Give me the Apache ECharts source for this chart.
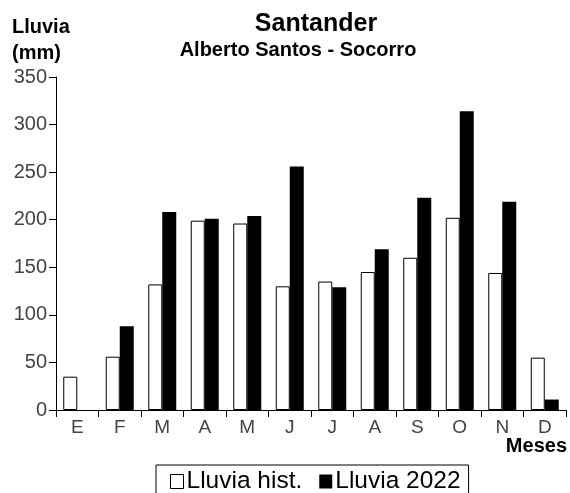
<!DOCTYPE html>
<html><head><meta charset="utf-8">
<script src="https://cdn.jsdelivr.net/npm/echarts@6/dist/echarts.min.js"></script>
<style>html,body{margin:0;padding:0;background:#fff}#c{width:570px;height:493px}</style>
</head><body><div id="c"></div>
<script>
var months = ['E','F','M','A','M','J','J','A','S','O','N','D'];
var lluviaHist = [35, 56, 132, 199, 196, 130, 135, 145, 160, 202, 144, 55];
var lluvia2022 = [0, 88, 208, 201, 204, 256, 129, 169, 223, 314, 219, 11];
var yTicks = {min: 0, max: 350, interval: 50};
var FONT = '"Liberation Sans", Arial, sans-serif';

var chart = echarts.init(document.getElementById('c'));
chart.setOption({
  animation: false,
  backgroundColor: '#fff',
  title: [
    {text: 'Santander', left: 311, top: 7, textAlign: 'center',
     textStyle: {fontFamily: FONT, fontSize: 25, fontWeight: 'bold', color: '#000'}},
    {text: 'Alberto Santos - Socorro', left: 293, top: 35, textAlign: 'center',
     textStyle: {fontFamily: FONT, fontSize: 20, fontWeight: 'bold', color: '#000'}}
  ],
  graphic: [
    {type: 'text', left: 12, top: 14, style: {text: 'Lluvia\n(mm)', font: 'bold 20px ' + FONT, fill: '#000', lineHeight: 26}},
    {type: 'text', right: 3, top: 436, style: {text: 'Meses', font: 'bold 20px ' + FONT, fill: '#000'}}
  ],
  legend: {
    left: 156, top: 465,
    data: [
      {name: 'Lluvia hist.', icon: 'rect', itemStyle: {color: '#fff', borderColor: '#000', borderWidth: 1}},
      {name: 'Lluvia 2022', icon: 'rect', itemStyle: {color: '#000'}}
    ],
    itemWidth: 13, itemHeight: 14, itemGap: 17,
    borderColor: '#000', borderWidth: 1, padding: [4, 8, 10, 14],
    textStyle: {fontFamily: FONT, fontSize: 24.5, lineHeight: 24, color: '#000', padding: [0, 0, 0, -2]}
  },
  grid: {left: 56, right: 4, top: 77, bottom: 83, containLabel: false},
  xAxis: {
    type: 'category', data: months, boundaryGap: true,
    axisLine: {lineStyle: {color: '#000', width: 1}},
    axisTick: {show: true, length: 7, lineStyle: {color: '#000'}},
    axisLabel: {fontFamily: FONT, fontSize: 19, color: '#444', margin: 8}
  },
  yAxis: {
    type: 'value', min: yTicks.min, max: yTicks.max, interval: yTicks.interval,
    splitLine: {show: false},
    axisLine: {show: true, lineStyle: {color: '#000', width: 1}},
    axisTick: {show: true, length: 7, lineStyle: {color: '#000'}},
    axisLabel: {fontFamily: FONT, fontSize: 20, color: '#444', margin: 9}
  },
  series: [
    {name: 'Lluvia hist.', type: 'bar', data: lluviaHist, barWidth: 14, barGap: '0%',
     itemStyle: {color: '#fff', borderColor: '#000', borderWidth: 1}},
    {name: 'Lluvia 2022', type: 'bar', data: lluvia2022, barWidth: 14, barGap: '0%',
     itemStyle: {color: '#000'}}
  ]
});
</script></body></html>
